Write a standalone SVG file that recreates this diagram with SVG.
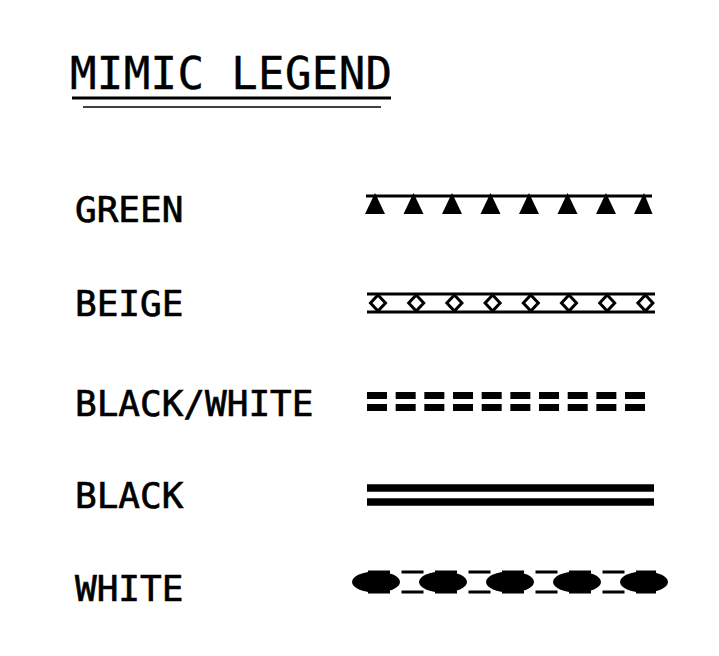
<svg xmlns="http://www.w3.org/2000/svg" width="719" height="656" viewBox="0 0 719 656">
<style>
.t{font-family:"DejaVu Sans Mono","Liberation Mono",monospace;fill:#000;stroke:#000;stroke-width:0.7px}
.lbl{font-size:36px}
.ttl{font-size:44px;stroke-width:0.4px}
.ln{stroke:#000;fill:none}
</style>
<rect width="719" height="656" fill="#fff"/>
<g id="title">
<text class="t ttl" x="70" y="89" textLength="322" lengthAdjust="spacing">MIMIC LEGEND</text>
<line class="ln" x1="72" y1="98" x2="391" y2="98" stroke-width="3"/>
<line class="ln" x1="83" y1="107" x2="381" y2="107" stroke-width="1.5"/>
</g>
<g id="green">
<text class="t lbl" x="75" y="222">GREEN</text>
<line class="ln" x1="366" y1="196" x2="652" y2="196" stroke-width="3"/>
<g fill="#000">
<polygon points="375,193 385,214 365,214"/>
<polygon points="413.5,193 423.5,214 403.5,214"/>
<polygon points="452,193 462,214 442,214"/>
<polygon points="490.5,193 500.5,214 480.5,214"/>
<polygon points="529,193 539,214 519,214"/>
<polygon points="567.5,193 577.5,214 557.5,214"/>
<polygon points="606,193 616,214 596,214"/>
<polygon points="644,193 652.5,214 634,214"/>
</g>
</g>
<g id="beige">
<text class="t lbl" x="75" y="316">BEIGE</text>
<line class="ln" x1="367" y1="294" x2="655" y2="294" stroke-width="3"/>
<line class="ln" x1="367" y1="312" x2="655" y2="312" stroke-width="3"/>
<g fill="#fff" stroke="#000" stroke-width="3">
<polygon points="378,295 385.5,303 378,311 370.5,303"/>
<polygon points="416.2,295 423.7,303 416.2,311 408.7,303"/>
<polygon points="454.4,295 461.9,303 454.4,311 446.9,303"/>
<polygon points="492.6,295 500.1,303 492.6,311 485.1,303"/>
<polygon points="530.8,295 538.3,303 530.8,311 523.3,303"/>
<polygon points="569,295 576.5,303 569,311 561.5,303"/>
<polygon points="607.2,295 614.7,303 607.2,311 599.7,303"/>
<polygon points="645.4,295 652.9,303 645.4,311 637.9,303"/>
</g>
</g>
<g id="blackwhite">
<text class="t lbl" x="75" y="416">BLACK/WHITE</text>
<line class="ln" x1="367" y1="395.5" x2="645" y2="395.5" stroke-width="7" stroke-dasharray="20 8.67"/>
<line class="ln" x1="367" y1="407.5" x2="645" y2="407.5" stroke-width="7" stroke-dasharray="20 8.67"/>
</g>
<g id="black">
<text class="t lbl" x="75" y="508">BLACK</text>
<line class="ln" x1="367" y1="488" x2="654" y2="488" stroke-width="7.5"/>
<line class="ln" x1="367" y1="502" x2="654" y2="502" stroke-width="7.5"/>
</g>
<g id="white">
<text class="t lbl" x="75" y="601">WHITE</text>
<line class="ln" x1="368" y1="572" x2="656" y2="572" stroke-width="3" stroke-dasharray="22 11.5"/>
<line class="ln" x1="368" y1="592" x2="656" y2="592" stroke-width="3" stroke-dasharray="22 11.5"/>
<g fill="#000">
<ellipse cx="376" cy="582" rx="24" ry="10.5"/>
<ellipse cx="443" cy="582" rx="24" ry="10.5"/>
<ellipse cx="510" cy="582" rx="24" ry="10.5"/>
<ellipse cx="577" cy="582" rx="24" ry="10.5"/>
<ellipse cx="644" cy="582" rx="24" ry="10.5"/>
</g>
</g>
</svg>
